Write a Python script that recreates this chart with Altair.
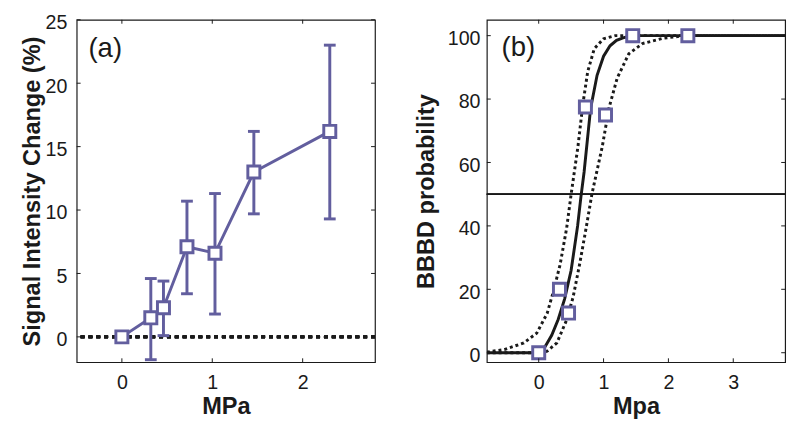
import altair as alt
import pandas as pd

PURPLE = "#625e9e"
INK = "#1a1a1a"

# Panel (a): signal intensity change vs MPa
a_x = [0.0, 0.32, 0.46, 0.72, 1.03, 1.46, 2.30]
a_y = [0.0, 1.5, 2.3, 7.1, 6.6, 13.0, 16.2]
a_lo = [None, -1.8, 0.1, 3.4, 1.8, 9.7, 9.3]
a_hi = [None, 4.6, 4.4, 10.7, 11.3, 16.2, 23.0]
a_xticks = [0, 1, 2]
a_yticks = [0, 5, 10, 15, 20, 25]

# Panel (b): BBBD probability vs Mpa
b_x = [0.0, 0.32, 0.46, 0.72, 1.03, 1.45, 2.30]
b_y = [0.0, 20.0, 12.5, 77.5, 75.0, 100.0, 100.0]
fit_x = [-0.8, -0.1, 0.0, 0.1, 0.2, 0.3, 0.4, 0.5, 0.6, 0.65, 0.7, 0.8, 0.9, 1.0, 1.1, 1.2, 1.3, 1.4, 1.5, 3.8]
fit_y = [0, 0, 0.5, 2, 5.5, 10.5, 17, 26, 40, 49, 57, 77, 87.5, 93.5, 96.8, 98.5, 99.3, 99.8, 100, 100]
lo_ci_x = [-0.8, -0.53, -0.23, -0.03, 0.13, 0.23, 0.33, 0.43, 0.5, 0.605, 0.68, 0.756, 0.857, 1.0, 1.18, 3.8]
lo_ci_y = [0.2, 1.0, 3.1, 6.2, 12.4, 19.6, 27.8, 39.2, 50, 65, 78.3, 88.7, 95.9, 99, 100, 100]
hi_ci_x = [-0.8, 0.0, 0.13, 0.28, 0.43, 0.53, 0.63, 0.73, 0.82, 0.98, 1.085, 1.21, 1.39, 1.6, 1.92, 2.27, 3.8]
hi_ci_y = [0, 0, 0.5, 3.1, 10.3, 17.5, 27.8, 39.2, 50, 65, 77.3, 86.6, 94.3, 97.5, 99.2, 100, 100]
b_xticks = [0, 1, 2, 3]
b_yticks = [0, 20, 40, 60, 80, 100]
panel_labels = ["(a)", "(b)"]

W, H = 304, 349
TL = 4  # inward tick length


def inward_ticks(xticks, yticks):
    xt = pd.DataFrame({"v": xticks})
    yt = pd.DataFrame({"v": yticks})
    base = dict(color=INK, strokeWidth=1)
    return [
        alt.Chart(yt).mark_rule(**base).encode(y="v:Q", x=alt.value(0), x2=alt.value(TL)),
        alt.Chart(yt).mark_rule(**base).encode(y="v:Q", x=alt.value(W - TL), x2=alt.value(W)),
        alt.Chart(xt).mark_rule(**base).encode(x="v:Q", y=alt.value(H - TL), y2=alt.value(H)),
        alt.Chart(xt).mark_rule(**base).encode(x="v:Q", y=alt.value(0), y2=alt.value(TL)),
    ]


def panel_label(txt, px, py):
    return alt.Chart(pd.DataFrame({"t": [txt]})).mark_text(
        fontSize=28, fontWeight=100, align="left", baseline="middle",
        font="Liberation Sans", color=INK,
    ).encode(text="t:N", x=alt.value(px), y=alt.value(py))


YLAB = dict(labelBaseline="top", labelOffset=-7)

# ---------- Panel (a) ----------
da = pd.DataFrame({"x": a_x, "y": a_y, "lo": a_lo, "hi": a_hi})
xa = alt.X("x:Q", scale=alt.Scale(domain=[-0.5, 2.8], nice=False, zero=False),
           axis=alt.Axis(values=a_xticks, title="MPa", labelPadding=11, titlePadding=2, format="d"))
ya = alt.Y("y:Q", scale=alt.Scale(domain=[-2, 25], nice=False, zero=False),
           axis=alt.Axis(values=a_yticks, title="Signal Intensity Change (%)", labelPadding=10,
                         titlePadding=1, **YLAB))

a_line = alt.Chart(da).mark_line(color=PURPLE, strokeWidth=3).encode(x=xa, y=ya)
a_zero = alt.Chart(da).mark_rule(color=INK, strokeWidth=3, strokeDash=[4, 4]).encode(y=alt.datum(0))
err = da.dropna()
a_bar = alt.Chart(err).mark_rule(color=PURPLE, strokeWidth=3).encode(x="x:Q", y="lo:Q", y2="hi:Q")
a_caplo = alt.Chart(err).mark_tick(color=PURPLE, orient="horizontal", size=12, thickness=3, opacity=1).encode(x="x:Q", y="lo:Q")
a_caphi = alt.Chart(err).mark_tick(color=PURPLE, orient="horizontal", size=12, thickness=3, opacity=1).encode(x="x:Q", y="hi:Q")
a_pts = alt.Chart(da).mark_square(size=150, fill="white", stroke=PURPLE, strokeWidth=3, opacity=1).encode(x="x:Q", y="y:Q")

panel_a = alt.layer(a_line, a_zero, a_bar, a_caplo, a_caphi, a_pts, panel_label(panel_labels[0], 12, 30),
                    *inward_ticks(a_xticks, a_yticks)).properties(width=W, height=H)

# ---------- Panel (b) ----------
db = pd.DataFrame({"x": b_x, "y": b_y})
fit = pd.DataFrame({"x": fit_x, "y": fit_y})
lci = pd.DataFrame({"x": lo_ci_x, "y": lo_ci_y})
hci = pd.DataFrame({"x": hi_ci_x, "y": hi_ci_y})

xb = alt.X("x:Q", scale=alt.Scale(domain=[-0.8, 3.8], nice=False, zero=False),
           axis=alt.Axis(values=b_xticks, title="Mpa", labelPadding=11, titlePadding=2, format="d"))
yb = alt.Y("y:Q", scale=alt.Scale(domain=[-3, 105], nice=False, zero=False),
           axis=alt.Axis(values=b_yticks, title="BBBD probability", labelPadding=7, titlePadding=9, **YLAB))

b_half = alt.Chart(db).mark_rule(color=INK, strokeWidth=1).encode(y=alt.datum(50))
b_fit = alt.Chart(fit).mark_line(color=INK, strokeWidth=3, clip=True).encode(x=xb, y=yb)
b_lci = alt.Chart(lci).mark_line(color=INK, strokeWidth=3, strokeDash=[3, 3], clip=True).encode(x="x:Q", y="y:Q")
b_hci = alt.Chart(hci).mark_line(color=INK, strokeWidth=3, strokeDash=[3, 3], clip=True).encode(x="x:Q", y="y:Q")
b_pts = alt.Chart(db).mark_square(size=150, fill="white", stroke=PURPLE, strokeWidth=3, opacity=1).encode(x="x:Q", y="y:Q")

panel_b = alt.layer(b_fit, b_half, b_lci, b_hci, b_pts, panel_label(panel_labels[1], 15, 29),
                    *inward_ticks(b_xticks, b_yticks)).properties(width=W, height=H)

chart = alt.hconcat(panel_a, panel_b, spacing=37).properties(
    padding={"left": 12, "top": 0, "right": 5, "bottom": 5},
    background="white",
).configure_view(stroke=INK, strokeWidth=1.2).configure_axis(
    grid=False, domain=False, ticks=False, tickSize=0,
    labelFont="Liberation Sans", labelFontSize=20, labelColor=INK,
    titleFont="Liberation Sans", titleFontSize=24, titleFontWeight="bold", titleColor=INK,
)

chart.save("out.html", embed_options={"renderer": "svg", "actions": False})
